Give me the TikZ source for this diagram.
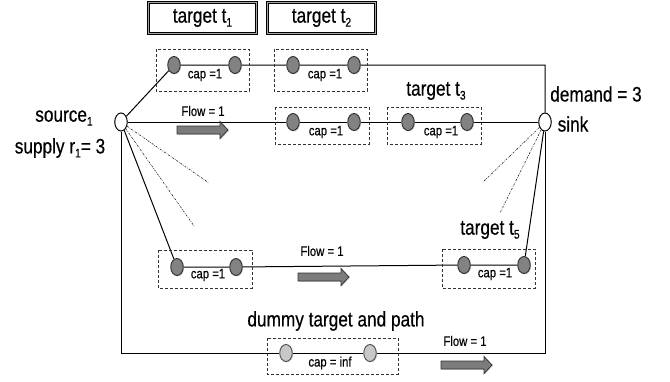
\documentclass[tikz,border=0pt]{standalone}
\usepackage{fontspec}
\setmainfont{Liberation Sans}[FakeStretch=0.82, FakeBold=0.5]
\usetikzlibrary{backgrounds,shadows,shapes.geometric}
\newcommand\lowidx[1]{\raisebox{-4pt}{\fontsize{12.5}{12.5}\selectfont#1}}
\definecolor{nodegray}{HTML}{828282}
\definecolor{nodeedge}{HTML}{2E2E2E}
\definecolor{lightnode}{HTML}{C8C8C8}
\definecolor{arrowgray}{HTML}{7C7C7C}
\tikzset{
  bigtext/.style={font=\fontsize{21}{24}\selectfont, inner sep=0pt},
  smalltext/.style={font=\fontsize{13.8}{15}\selectfont, inner sep=0pt},
  hop/.style={ellipse, draw=nodeedge, line width=0.9pt, fill=nodegray,
    minimum width=12.5pt, minimum height=17pt, inner sep=0pt,
    drop shadow={shadow xshift=0.9pt, shadow yshift=-0.9pt, opacity=0.35}},
  dummyhop/.style={hop, fill=lightnode, draw=nodeedge!85},
  terminal/.style={ellipse, draw=black, line width=1pt, fill=white,
    minimum width=12.5pt, minimum height=18pt, inner sep=0pt},
  link/.style={draw=black, line width=1pt},
  hint/.style={draw=black!85, line width=0.6pt, dash pattern=on 2pt off 1.2pt on 0.6pt off 1.2pt},
  group/.style={draw=black!80, line width=0.9pt, dash pattern=on 3pt off 2pt},
  titlebox/.style={draw=black, line width=1pt, double=black!35, double distance=1pt,
    minimum width=108pt, minimum height=31pt, font=\fontsize{21}{24}\selectfont, inner sep=0pt},
  arrowbody/.style={draw=black!80, line width=0.8pt, fill=arrowgray,
    drop shadow={shadow xshift=0.9pt, shadow yshift=-0.9pt, opacity=0.3}},
  flowarrow/.pic={\path[arrowbody] (0,-4) -- (43,-4) -- (43,-8.5) -- (51,0) -- (43,8.5) -- (43,4) -- (0,4) -- cycle;}
}
\begin{document}
\begin{tikzpicture}[x=1pt, y=-1pt]
\useasboundingbox (0,0) rectangle (670,381);

% titles
\node[titlebox] (tt1) at (202.5,18) {target t\lowidx{1}};
\node[titlebox] (tt2) at (321.5,18) {target t\lowidx{2}};

% source and sink
\node[terminal] (S) at (121,122) {};
\node[terminal] (T) at (545,122) {};
\node[bigtext] (srclab) at (64,118) {source\lowidx{1}};
\node[bigtext] (suplab) at (60,148) {supply r\lowidx{1}= 3};
\node[bigtext] (demlab) at (596,94) {demand = 3};
\node[bigtext] (sinklab) at (573,124) {sink};

% dashed groups
\draw[group] (156,49) rectangle (249,91);
\draw[group] (274,49) rectangle (367,91);
\draw[group] (275,107) rectangle (369,144);
\draw[group] (387,107) rectangle (481,144);
\draw[group] (158,250) rectangle (252,288);
\draw[group] (442,249) rectangle (535,288);
\draw[group] (267,338) rectangle (398,374);

% hop nodes
\node[hop] (a1) at (174,65) {};
\node[hop] (a2) at (235,65) {};
\node[hop] (b1) at (293,65) {};
\node[hop] (b2) at (354,65) {};
\node[hop] (c1) at (293,122) {};
\node[hop] (c2) at (354,122) {};
\node[hop] (d1) at (408,122) {};
\node[hop] (d2) at (467,122) {};
\node[hop] (e1) at (177,267) {};
\node[hop] (e2) at (236,267) {};
\node[hop] (f1) at (464,265) {};
\node[hop] (f2) at (524,265) {};
\node[dummyhop] (g1) at (286,353) {};
\node[dummyhop] (g2) at (370,353) {};

% hint directions
\coordinate (sh1) at (209,183);
\coordinate (sh2) at (194,226);
\coordinate (th1) at (482,183);
\coordinate (th2) at (500,213);

\begin{scope}[on background layer]
  \draw[link] (S) -- (a1) -- (a2) -- (b1) -- (b2) -| (T);
  \draw[link] (S) -- (c1) -- (c2) -- (d1) -- (d2) -- (T);
  \draw[link] (S) -- (e1) -- (e2) -- (f1) -- (f2) -- (T);
  \draw[link] (S) |- (g1) -- (g2) -| (T);
  \draw[hint] (S) -- (sh1);
  \draw[hint] (S) -- (sh2);
  \draw[hint] (T) -- (th1);
  \draw[hint] (T) -- (th2);
\end{scope}

% capacities
\node[smalltext] (capa) at (205,75) {cap =1};
\node[smalltext] (capb) at (325,75) {cap =1};
\node[smalltext] (capc) at (326,132) {cap =1};
\node[smalltext] (capd) at (441,132) {cap =1};
\node[smalltext] (cape) at (208,275) {cap =1};
\node[smalltext] (capf) at (495,274) {cap =1};
\node[smalltext] (capg) at (330,363) {cap = inf};

% target labels
\node[bigtext] (t3lab) at (436,91) {target t\lowidx{3}};
\node[bigtext] (t5lab) at (490,230) {target t\lowidx{5}};
\node[bigtext] (dumlab) at (336,321) {dummy target and path};

% flows
\node[smalltext] (fl1) at (203,111) {Flow = 1};
\node[smalltext] (fl2) at (322,251) {Flow = 1};
\node[smalltext] (fl3) at (465,341) {Flow = 1};
\pic at (177,130) {flowarrow};
\pic at (298,277) {flowarrow};
\pic at (441,365) {flowarrow};
\end{tikzpicture}
\end{document}
